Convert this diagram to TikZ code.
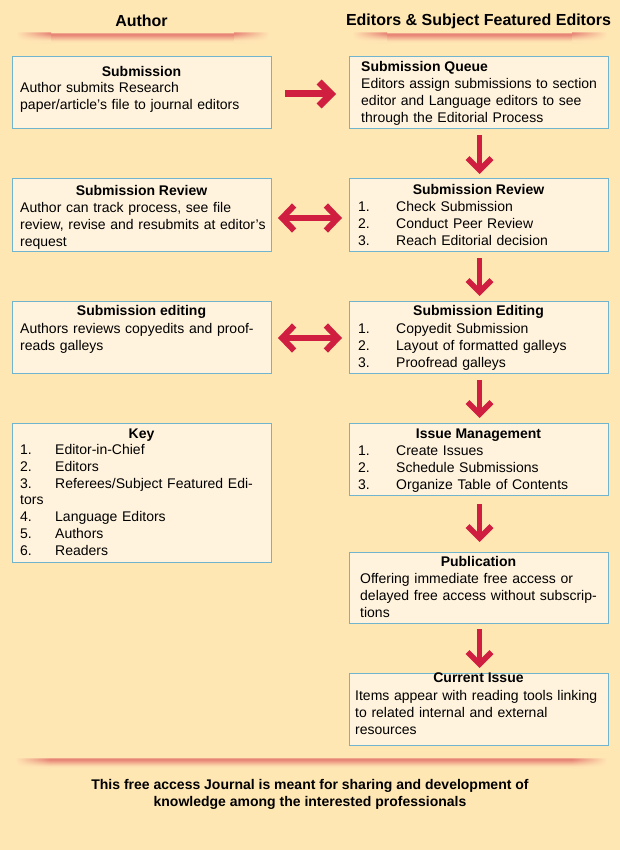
\documentclass[tikz,border=0pt]{standalone}
\usepackage{fontspec}
\setmainfont{Liberation Sans}
\usetikzlibrary{arrows.meta,calc}
\definecolor{bg}{RGB}{255,231,180}
\definecolor{boxfill}{RGB}{255,243,221}
\definecolor{boxline}{RGB}{112,180,206}
\definecolor{arr}{RGB}{208,30,64}
\definecolor{band}{RGB}{226,112,106}
\newcommand{\myband}[3]{%
  \foreach \i/\p in {0/55,1/82,2/78,3/66,4/53,5/40,6/28,7/17,8/8,9/3}{
    \colorlet{bandrow}{band!\p!bg}
    \fill[left color=bg, right color=bandrow] (#1,#3+\i) rectangle (#1+35,#3+\i+1.15);
    \fill[bandrow] (#1+34.9,#3+\i) rectangle (#2-34.9,#3+\i+1.15);
    \fill[left color=bandrow, right color=bg] (#2-35,#3+\i) rectangle (#2,#3+\i+1.15);
  }}
\begin{document}
\begin{tikzpicture}[x=1pt,y=-1pt,
  box/.style={draw=boxline, line width=1pt, fill=boxfill, anchor=north west,
    minimum width=259pt, minimum height=#1, inner sep=0pt, outer sep=0pt},
  ttl/.style={anchor=base, inner sep=0pt, font=\fontsize{14}{17}\selectfont\bfseries},
  ttlw/.style={anchor=base west, inner sep=0pt, font=\fontsize{14}{17}\selectfont\bfseries},
  body/.style={anchor=base west, inner sep=0pt, align=left, text width=250pt,
    font=\fontsize{14}{17}\selectfont},
  hdr/.style={inner sep=0pt, font=\fontsize{16}{19}\selectfont\bfseries},
  rarrow/.style={draw=arr, line width=7pt, -{Straight Barb[length=12pt,width=24pt]}},
  darrow/.style={draw=arr, line width=5.5pt, -{Straight Barb[length=12pt,width=24pt]}},
  dblarrow/.style={draw=arr, line width=6pt,
    {Straight Barb[length=12pt,width=25pt]}-{Straight Barb[length=12pt,width=25pt]}},
]
\fill[bg] (0,0) rectangle (620,850);
\useasboundingbox (0,0) rectangle (620,850);

% headers
\node[hdr] (h1) at (141.5,21) {Author};
\node[hdr] (h2) at (478.5,21) {Editors \& Subject Featured Editors};
\myband{16}{269}{33}
\myband{352}{607}{33}
\myband{15}{607}{758}

% left column
\node[box=72pt] (l1) at (12,57) {};
\node[ttl] (l1t) at ([yshift=-19.5pt]l1.north) {Submission};
\node[body] (l1b) at ([shift={(8pt,-35.5pt)}]l1.north west)
  {Author submits Research\\paper/article’s file to journal editors};

\node[box=72pt] (l2) at (12,179) {};
\node[ttl] (l2t) at ([yshift=-16.5pt]l2.north) {Submission Review};
\node[body] (l2b) at ([shift={(8pt,-33.5pt)}]l2.north west)
  {Author can track process, see file\\review, revise and resubmits at editor’s\\request};

\node[box=72pt] (l3) at (12,301) {};
\node[ttl] (l3t) at ([yshift=-14.5pt]l3.north) {Submission editing};
\node[body] (l3b) at ([shift={(8pt,-32pt)}]l3.north west)
  {Authors reviews copyedits and proof-\\reads galleys};

\node[box=139pt] (key) at (12,423) {};
\node[ttl] (keyt) at ([yshift=-15.5pt]key.north) {Key};
\node[body, text width=252pt] (keyb) at ([shift={(8pt,-31.5pt)}]key.north west)
  {\makebox[35pt][l]{1.}Editor-in-Chief\\[-0.2pt]
   \makebox[35pt][l]{2.}Editors\\[-0.2pt]
   \makebox[35pt][l]{3.}Referees/Subject Featured Edi-\\[-0.2pt]
   tors\\[-0.2pt]
   \makebox[35pt][l]{4.}Language Editors\\[-0.2pt]
   \makebox[35pt][l]{5.}Authors\\[-0.2pt]
   \makebox[35pt][l]{6.}Readers};

% right column
\node[box=72pt] (r1) at (349,57) {};
\node[ttlw] (r1t) at ([shift={(12pt,-14.5pt)}]r1.north west) {Submission Queue};
\node[body] (r1b) at ([shift={(12pt,-31.5pt)}]r1.north west)
  {Editors assign submissions to section\\editor and Language editors to see\\through the Editorial Process};

\node[box=72pt] (r2) at (349,179) {};
\node[ttl] (r2t) at ([yshift=-15.5pt]r2.north) {Submission Review};
\node[body] (r2b) at ([shift={(9pt,-32.5pt)}]r2.north west)
  {\makebox[38pt][l]{1.}Check Submission\\
   \makebox[38pt][l]{2.}Conduct Peer Review\\
   \makebox[38pt][l]{3.}Reach Editorial decision};

\node[box=72pt] (r3) at (349,301) {};
\node[ttl] (r3t) at ([yshift=-14.5pt]r3.north) {Submission Editing};
\node[body] (r3b) at ([shift={(9pt,-32pt)}]r3.north west)
  {\makebox[38pt][l]{1.}Copyedit Submission\\
   \makebox[38pt][l]{2.}Layout of formatted galleys\\
   \makebox[38pt][l]{3.}Proofread galleys};

\node[box=72pt] (r4) at (349,423) {};
\node[ttl] (r4t) at ([yshift=-15.5pt]r4.north) {Issue Management};
\node[body] (r4b) at ([shift={(9pt,-32.5pt)}]r4.north west)
  {\makebox[38pt][l]{1.}Create Issues\\
   \makebox[38pt][l]{2.}Schedule Submissions\\
   \makebox[38pt][l]{3.}Organize Table of Contents};

\node[box=71pt] (r5) at (349,552) {};
\node[ttl] (r5t) at ([yshift=-14pt]r5.north) {Publication};
\node[body] (r5b) at ([shift={(11pt,-31.5pt)}]r5.north west)
  {Offering immediate free access or\\delayed free access without subscrip-\\tions};

\node[box=72pt] (r6) at (349,673) {};
\node[ttl] (r6t) at ([yshift=-9.5pt]r6.north) {Current Issue};
\node[body] (r6b) at ([shift={(6pt,-27.5pt)}]r6.north west)
  {Items appear with reading tools linking\\to related internal and external\\resources};

% footer
\node[inner sep=0pt, align=center, font=\fontsize{14}{17}\selectfont\bfseries] (foot) at (310,794)
  {This free access Journal is meant for sharing and development of\\knowledge among the interested professionals};

% arrows
\draw[rarrow, shorten <=14pt, shorten >=13pt] ([yshift=-1pt]l1.east) -- ([yshift=-1pt]r1.west);
\draw[dblarrow, shorten <=7pt, shorten >=7pt] ([yshift=-3pt]l2.east) -- ([yshift=-3pt]r2.west);
\draw[dblarrow, shorten <=7pt, shorten >=7pt] ([yshift=-1pt]l3.east) -- ([yshift=-1pt]r3.west);
\draw[darrow, shorten <=6pt, shorten >=5pt] ([xshift=1pt]r1.south) -- ([xshift=1pt]r2.north);
\draw[darrow, shorten <=7pt, shorten >=5pt] ([xshift=1pt]r2.south) -- ([xshift=1pt]r3.north);
\draw[darrow, shorten <=7pt, shorten >=5pt] ([xshift=1pt]r3.south) -- ([xshift=1pt]r4.north);
\draw[darrow, shorten <=9pt, shorten >=10pt] ([xshift=1pt]r4.south) -- ([xshift=1pt]r5.north);
\draw[darrow, shorten <=6pt, shorten >=5pt] ([xshift=1pt]r5.south) -- ([xshift=1pt]r6.north);
\end{tikzpicture}
\end{document}
